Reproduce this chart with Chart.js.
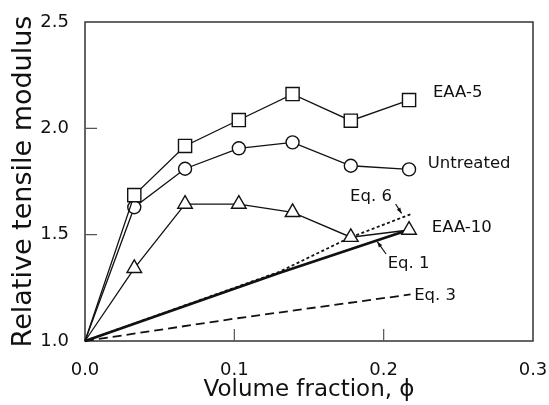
<!DOCTYPE html>
<html>
<head>
<meta charset="utf-8">
<script src="https://cdn.jsdelivr.net/npm/chart.js@4"></script>
<style>
  html, body { margin: 0; padding: 0; background: #fff; }
  #wrap { width: 549px; height: 405px; }
</style>
</head>
<body>
<div id="wrap"><canvas id="chart" width="549" height="405"></canvas></div>
<script>
// ===== DATA =====
const xVals     = [0, 0.033, 0.067, 0.103, 0.139, 0.178, 0.217];
const eaa5      = [1.0, 1.686, 1.917, 2.039, 2.161, 2.036, 2.133];
const untreated = [1.0, 1.629, 1.810, 1.906, 1.934, 1.824, 1.807];
const eaa10     = [1.0, 1.342, 1.644, 1.644, 1.605, 1.488, 1.522];

const eq1X = [0, 0.13, 0.217];
const eq1Y = [1.0, 1.32, 1.523];
const eq6X = [0, 0.13, 0.177, 0.218];
const eq6Y = [1.0, 1.325, 1.485, 1.596];
const eq3X = [0, 0.1, 0.218];
const eq3Y = [1.0, 1.105, 1.219];

const xTicks = [0, 0.1, 0.2, 0.3];
const yTicks = [1.0, 1.5, 2.0, 2.5];

// text labels in data coords (left edge, vertical centre)
const labelText = ["EAA-5", "Untreated", "Eq. 6", "EAA-10", "Eq. 1", "Eq. 3"];
const labelX    = [0.233, 0.2295, 0.1775, 0.2322, 0.2027, 0.2204];
const labelY    = [2.167, 1.835, 1.678, 1.531, 1.365, 1.212];

// arrows: from (x0,y0) to (x1,y1), head at the end
const arrowX0 = [0.208, 0.2016];
const arrowY0 = [1.644, 1.409];
const arrowX1 = [0.212, 0.1957];
const arrowY1 = [1.600, 1.467];

const pts = (xs, ys) => xs.map((x, i) => ({x: x, y: ys[i]}));
const noFirst = r => ctx => ctx.dataIndex === 0 ? 0 : r;

// ===== PLUGIN: frame, inward ticks, labels, arrows =====
const decor = {
  id: 'decor',
  beforeDatasetsDraw(chart) {
    const {ctx, chartArea: a, scales: {x, y}} = chart;
    ctx.save();
    ctx.strokeStyle = '#333';
    ctx.lineWidth = 1.5;
    ctx.strokeRect(a.left, a.top, a.right - a.left, a.bottom - a.top);
    ctx.lineWidth = 1.2;
    ctx.strokeStyle = '#555';
    ctx.beginPath();
    xTicks.slice(1, -1).forEach(v => {
      const px = x.getPixelForValue(v);
      ctx.moveTo(px, a.bottom); ctx.lineTo(px, a.bottom - 12);
    });
    yTicks.slice(1, -1).forEach(v => {
      const py = y.getPixelForValue(v);
      ctx.moveTo(a.left, py); ctx.lineTo(a.left + 12, py);
    });
    ctx.stroke();
    ctx.restore();
  },
  afterDatasetsDraw(chart) {
    const {ctx, scales: {x, y}} = chart;
    ctx.save();
    ctx.fillStyle = '#111';
    ctx.font = '16.5px "DejaVu Sans"';
    ctx.textAlign = 'left';
    ctx.textBaseline = 'middle';
    labelText.forEach((t, i) => {
      ctx.fillText(t, x.getPixelForValue(labelX[i]), y.getPixelForValue(labelY[i]));
    });
    ctx.strokeStyle = '#111';
    ctx.lineWidth = 1.2;
    arrowX0.forEach((_, i) => {
      const x0 = x.getPixelForValue(arrowX0[i]), y0 = y.getPixelForValue(arrowY0[i]);
      const x1 = x.getPixelForValue(arrowX1[i]), y1 = y.getPixelForValue(arrowY1[i]);
      ctx.beginPath(); ctx.moveTo(x0, y0); ctx.lineTo(x1, y1); ctx.stroke();
      const ang = Math.atan2(y1 - y0, x1 - x0);
      ctx.beginPath();
      ctx.moveTo(x1, y1);
      ctx.lineTo(x1 - 6 * Math.cos(ang - 0.35), y1 - 6 * Math.sin(ang - 0.35));
      ctx.lineTo(x1 - 6 * Math.cos(ang + 0.35), y1 - 6 * Math.sin(ang + 0.35));
      ctx.closePath(); ctx.fill();
    });
    ctx.restore();
  }
};

const series = (data, style, r) => ({
  data: data, showLine: true, borderColor: '#111', borderWidth: 1.3,
  pointStyle: style, pointRadius: noFirst(r), pointHoverRadius: noFirst(r),
  pointBackgroundColor: '#fff', pointBorderColor: '#111', pointBorderWidth: 1.4
});
const eqLine = (data, width, dash) => ({
  data: data, showLine: true, borderColor: '#111', borderWidth: width,
  borderDash: dash, pointRadius: 0, pointHoverRadius: 0
});

new Chart(document.getElementById('chart').getContext('2d'), {
  type: 'scatter',
  data: {
    datasets: [
      series(pts(xVals, eaa5), 'rect', 9.3),
      series(pts(xVals, untreated), 'circle', 6.5),
      series(pts(xVals, eaa10), 'triangle', 8.4),
      eqLine(pts(eq1X, eq1Y), 2.8, []),
      eqLine(pts(eq6X, eq6Y), 1.8, [3, 2.5]),
      eqLine(pts(eq3X, eq3Y), 1.8, [9, 5])
    ]
  },
  options: {
    responsive: false,
    animation: false,
    clip: false,
    layout: {padding: {top: 22, right: 16, left: 0, bottom: 0}},
    plugins: {legend: {display: false}, tooltip: {enabled: false}},
    scales: {
      x: {
        type: 'linear', min: 0, max: 0.3,
        afterFit: s => { s.height = 64; s.paddingLeft = 0; s.paddingRight = 0; },
        afterBuildTicks: s => { s.ticks = xTicks.map(v => ({value: v})); },
        grid: {display: false}, border: {display: false},
        ticks: {color: '#111', padding: 11, font: {family: 'DejaVu Sans', size: 18},
                callback: v => v.toFixed(1)},
        title: {display: true, text: 'Volume fraction, \u03D5', color: '#111',
                font: {family: 'DejaVu Sans', size: 23, lineHeight: 1},
                padding: {top: 0, bottom: 3}}
      },
      y: {
        type: 'linear', min: 1, max: 2.5,
        afterFit: s => { s.width = 85; s.paddingTop = 0; s.paddingBottom = 0; },
        afterBuildTicks: s => { s.ticks = yTicks.map(v => ({value: v})); },
        grid: {display: false}, border: {display: false},
        ticks: {color: '#111', padding: 8, font: {family: 'DejaVu Sans', size: 18},
                callback: v => v.toFixed(1)},
        title: {display: true, text: 'Relative tensile modulus', color: '#111',
                font: {family: 'DejaVu Sans', size: 27, lineHeight: 1},
                padding: {top: 10, bottom: 0}}
      }
    }
  },
  plugins: [decor]
});
</script>
</body>
</html>
